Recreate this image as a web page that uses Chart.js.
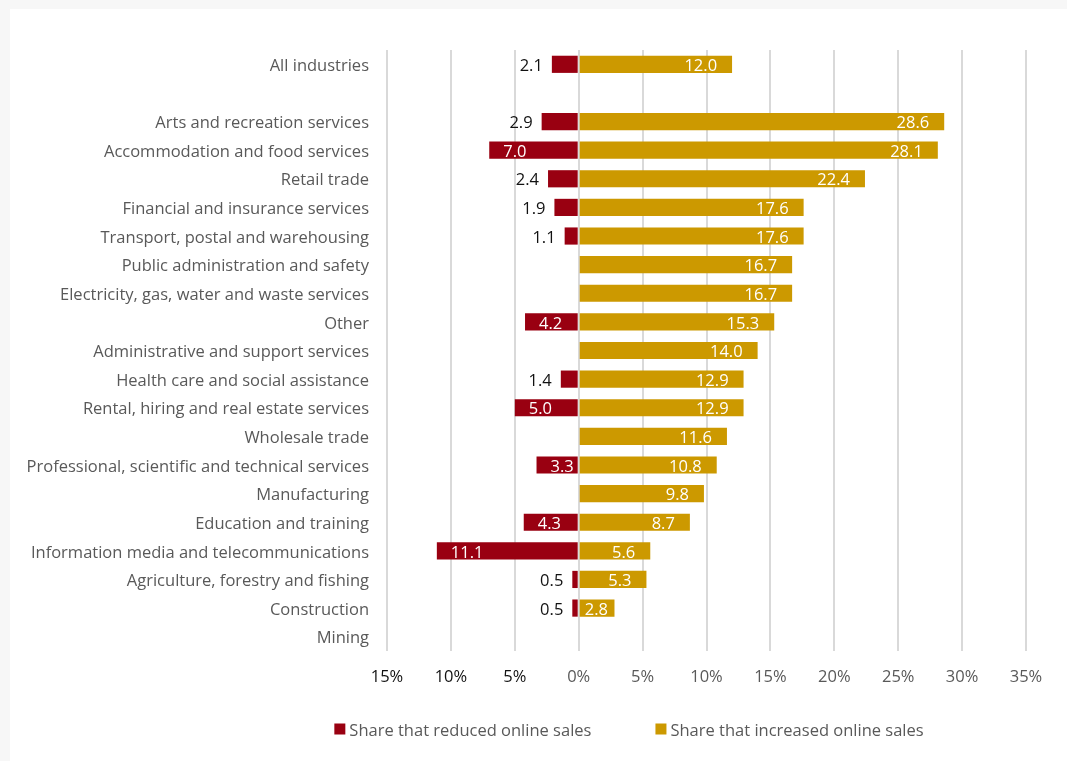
<!DOCTYPE html>
<html>
<head>
<meta charset="utf-8">
<script src="https://cdn.jsdelivr.net/npm/chart.js@4/dist/chart.umd.min.js"></script>
<style>
  html, body { margin: 0; padding: 0; background: #f7f7f7; }
  #panel { position: absolute; left: 10px; top: 9px; width: 1057px; height: 752px; background: #ffffff; }
  #panel canvas { display: block; }
</style>
</head>
<body>
<div id="panel"><canvas id="chart"></canvas></div>
<script>
// Industries, top to bottom (blank row separates the overall figure)
const categories = [
  'All industries',
  '',
  'Arts and recreation services',
  'Accommodation and food services',
  'Retail trade',
  'Financial and insurance services',
  'Transport, postal and warehousing',
  'Public administration and safety',
  'Electricity, gas, water and waste services',
  'Other',
  'Administrative and support services',
  'Health care and social assistance',
  'Rental, hiring and real estate services',
  'Wholesale trade',
  'Professional, scientific and technical services',
  'Manufacturing',
  'Education and training',
  'Information media and telecommunications',
  'Agriculture, forestry and fishing',
  'Construction',
  'Mining'
];

// Share of businesses (%) that reduced online sales
const reduced = [2.1, null, 2.9, 7.0, 2.4, 1.9, 1.1, null, null, 4.2, null, 1.4, 5.0, null, 3.3, null, 4.3, 11.1, 0.5, 0.5, null];

// Share of businesses (%) that increased online sales
const increased = [12.0, null, 28.6, 28.1, 22.4, 17.6, 17.6, 16.7, 16.7, 15.3, 14.0, 12.9, 12.9, 11.6, 10.8, 9.8, 8.7, 5.6, 5.3, 2.8, null];

// Axis ticks (%), reduced side shown to the left of zero
const tickValues = [-15, -10, -5, 0, 5, 10, 15, 20, 25, 30, 35];

const seriesNames = ['Share that reduced online sales', 'Share that increased online sales'];
const seriesColors = ['#990011', '#cc9900'];

const FONT = '"Open Sans", Lato, sans-serif';
const FONT_SIZE = 16.5;

// Value labels on each bar
const barLabels = {
  id: 'barLabels',
  afterDatasetsDraw(chart) {
    const ctx = chart.ctx;
    const zeroX = chart.scales.x.getPixelForValue(0);
    ctx.save();
    ctx.font = FONT_SIZE + 'px ' + FONT;
    ctx.textBaseline = 'middle';
    [reduced, increased].forEach((values, di) => {
      const meta = chart.getDatasetMeta(di);
      meta.data.forEach((bar, i) => {
        const v = values[i];
        if (v == null) return;
        const text = v.toFixed(1);
        const tw = ctx.measureText(text).width;
        const y = bar.y + 2;
        if (di === 1) {
          ctx.fillStyle = '#ffffff';
          ctx.textAlign = 'right';
          ctx.fillText(text, Math.max(bar.x - 15, zeroX + 6 + tw), y);
        } else {
          const w = bar.base - bar.x;
          if (w >= tw + 16) {
            ctx.fillStyle = '#ffffff';
            ctx.textAlign = 'left';
            ctx.fillText(text, bar.x + 14, y);
          } else {
            ctx.fillStyle = '#111111';
            ctx.textAlign = 'right';
            ctx.fillText(text, bar.x - 9, y);
          }
        }
      });
    });
    ctx.restore();
  }
};

// Legend row under the axis
const bottomLegend = {
  id: 'bottomLegend',
  afterDraw(chart) {
    const ctx = chart.ctx;
    ctx.save();
    ctx.font = FONT_SIZE + 'px ' + FONT;
    ctx.textBaseline = 'middle';
    ctx.textAlign = 'left';
    const box = 11, boxGap = 4, itemGap = 64;
    const widths = seriesNames.map(n => box + boxGap + ctx.measureText(n).width);
    const total = widths.reduce((a, b) => a + b, 0) + itemGap * (widths.length - 1);
    let x = 619 - total / 2;
    const cy = 720;
    seriesNames.forEach((name, i) => {
      ctx.fillStyle = seriesColors[i];
      ctx.fillRect(x, cy - box / 2, box, box);
      ctx.fillStyle = '#595959';
      ctx.fillText(name, x + box + boxGap, cy + 2);
      x += widths[i] + itemGap;
    });
    ctx.restore();
  }
};

new Chart(document.getElementById('chart'), {
  type: 'bar',
  data: {
    labels: categories,
    datasets: [
      {
        label: seriesNames[0],
        data: reduced.map(v => v == null ? null : -v),
        backgroundColor: seriesColors[0],
        barPercentage: 0.6,
        categoryPercentage: 1.0
      },
      {
        label: seriesNames[1],
        data: increased,
        backgroundColor: seriesColors[1],
        barPercentage: 0.6,
        categoryPercentage: 1.0
      }
    ]
  },
  options: {
    indexAxis: 'y',
    responsive: true,
    maintainAspectRatio: false,
    devicePixelRatio: 1,
    animation: false,
    layout: { padding: { top: 41, right: 41, bottom: 70, left: 0 } },
    plugins: {
      legend: { display: false },
      tooltip: { enabled: false }
    },
    scales: {
      x: {
        stacked: true,
        min: tickValues[0],
        max: tickValues[tickValues.length - 1],
        afterBuildTicks: (scale) => { scale.ticks = tickValues.map(v => ({ value: v })); },
        afterFit: (scale) => { scale.height = 40; },
        grid: { color: '#d9d9d9', lineWidth: 2, drawTicks: false },
        border: { display: false },
        ticks: {
          padding: 16,
          font: { family: FONT, size: FONT_SIZE },
          color: (c) => c.tick && c.tick.value < 0 ? '#111111' : '#595959',
          callback: (v) => Math.abs(v) + '%'
        }
      },
      y: {
        stacked: true,
        afterFit: (scale) => { scale.width = 377; },
        grid: { display: false, drawTicks: false },
        border: { display: false },
        ticks: {
          padding: 18,
          labelOffset: 2,
          autoSkip: false,
          font: { family: FONT, size: FONT_SIZE },
          color: '#595959'
        }
      }
    }
  },
  plugins: [barLabels, bottomLegend]
});
</script>
</body>
</html>
